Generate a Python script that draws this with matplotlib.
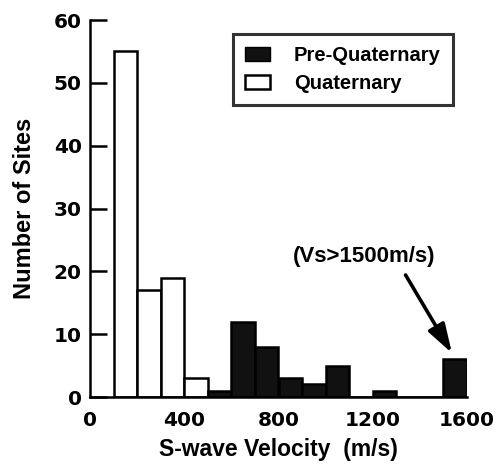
import matplotlib
matplotlib.use("Agg")
import matplotlib.pyplot as plt
import matplotlib.patches as mpatches

plt.rcParams['font.family'] = ['Liberation Sans', 'DejaVu Sans']

# histogram data, 100 m/s bins
quat_left = [100, 200, 300, 400]
quat_count = [55, 17, 19, 3]
pre_left = [500, 600, 700, 800, 900, 1000, 1100, 1200, 1300, 1400, 1500]
pre_count = [1, 12, 8, 3, 2, 5, 0, 1, 0, 0, 6]
bin_width = 100

x_ticks = [0, 400, 800, 1200, 1600]
y_ticks = [0, 10, 20, 30, 40, 50, 60]

fig = plt.figure(figsize=(5.0, 4.66), dpi=100)
ax = fig.add_axes([0.18, 0.148, 0.754, 0.809])

ax.bar(quat_left, quat_count, width=bin_width, align='edge',
       color='white', edgecolor='black', linewidth=1.8, zorder=2)
ax.bar(pre_left, pre_count, width=bin_width, align='edge',
       color='#111111', edgecolor='black', linewidth=1.8, zorder=2)

ax.set_xlim(0, 1600)
ax.set_ylim(0, 60)
ax.set_xticks(x_ticks)
ax.set_yticks(y_ticks)
for s in ['top', 'right']:
    ax.spines[s].set_visible(False)
for s in ['left', 'bottom']:
    ax.spines[s].set_linewidth(1.8)
    ax.spines[s].set_zorder(3)

ax.tick_params(axis='y', direction='in', length=12, width=1.8, pad=6,
               labelsize=14.5)
ax.tick_params(axis='x', length=0, pad=10, labelsize=14.5)
for lab in ax.get_xticklabels() + ax.get_yticklabels():
    lab.set_fontweight('bold')
    lab.set_family('DejaVu Sans')

ax.set_xlabel('S-wave Velocity  (m/s)', fontsize=16.5, fontweight='bold', labelpad=6)
ax.set_ylabel('Number of Sites', fontsize=17, fontweight='bold', labelpad=13)

handles = [mpatches.Patch(facecolor='#111111', edgecolor='black', label='Pre-Quaternary'),
           mpatches.Patch(facecolor='white', edgecolor='black', linewidth=1.8, label='Quaternary')]
leg = ax.legend(handles=handles, loc='upper right', bbox_to_anchor=(0.962, 0.963),
                prop={'size': 14.5, 'weight': 'bold'}, frameon=True, fancybox=False,
                handlelength=1.2, handleheight=0.7, handletextpad=1.2,
                borderpad=0.6, labelspacing=0.45, borderaxespad=0)
leg.get_frame().set_edgecolor('black')
leg.get_frame().set_linewidth(2.2)

ax.annotate('(Vs>1500m/s)', xy=(1536, 7.0), xytext=(1163, 22.3),
            fontsize=16, fontweight='bold', ha='center', va='center',
            arrowprops=dict(arrowstyle='-|>,head_length=1.1,head_width=0.35',
                            color='black', lw=2.6, relpos=(0.76, 0.0),
                            shrinkA=4, shrinkB=0))

fig.savefig('out.png', dpi=100)
